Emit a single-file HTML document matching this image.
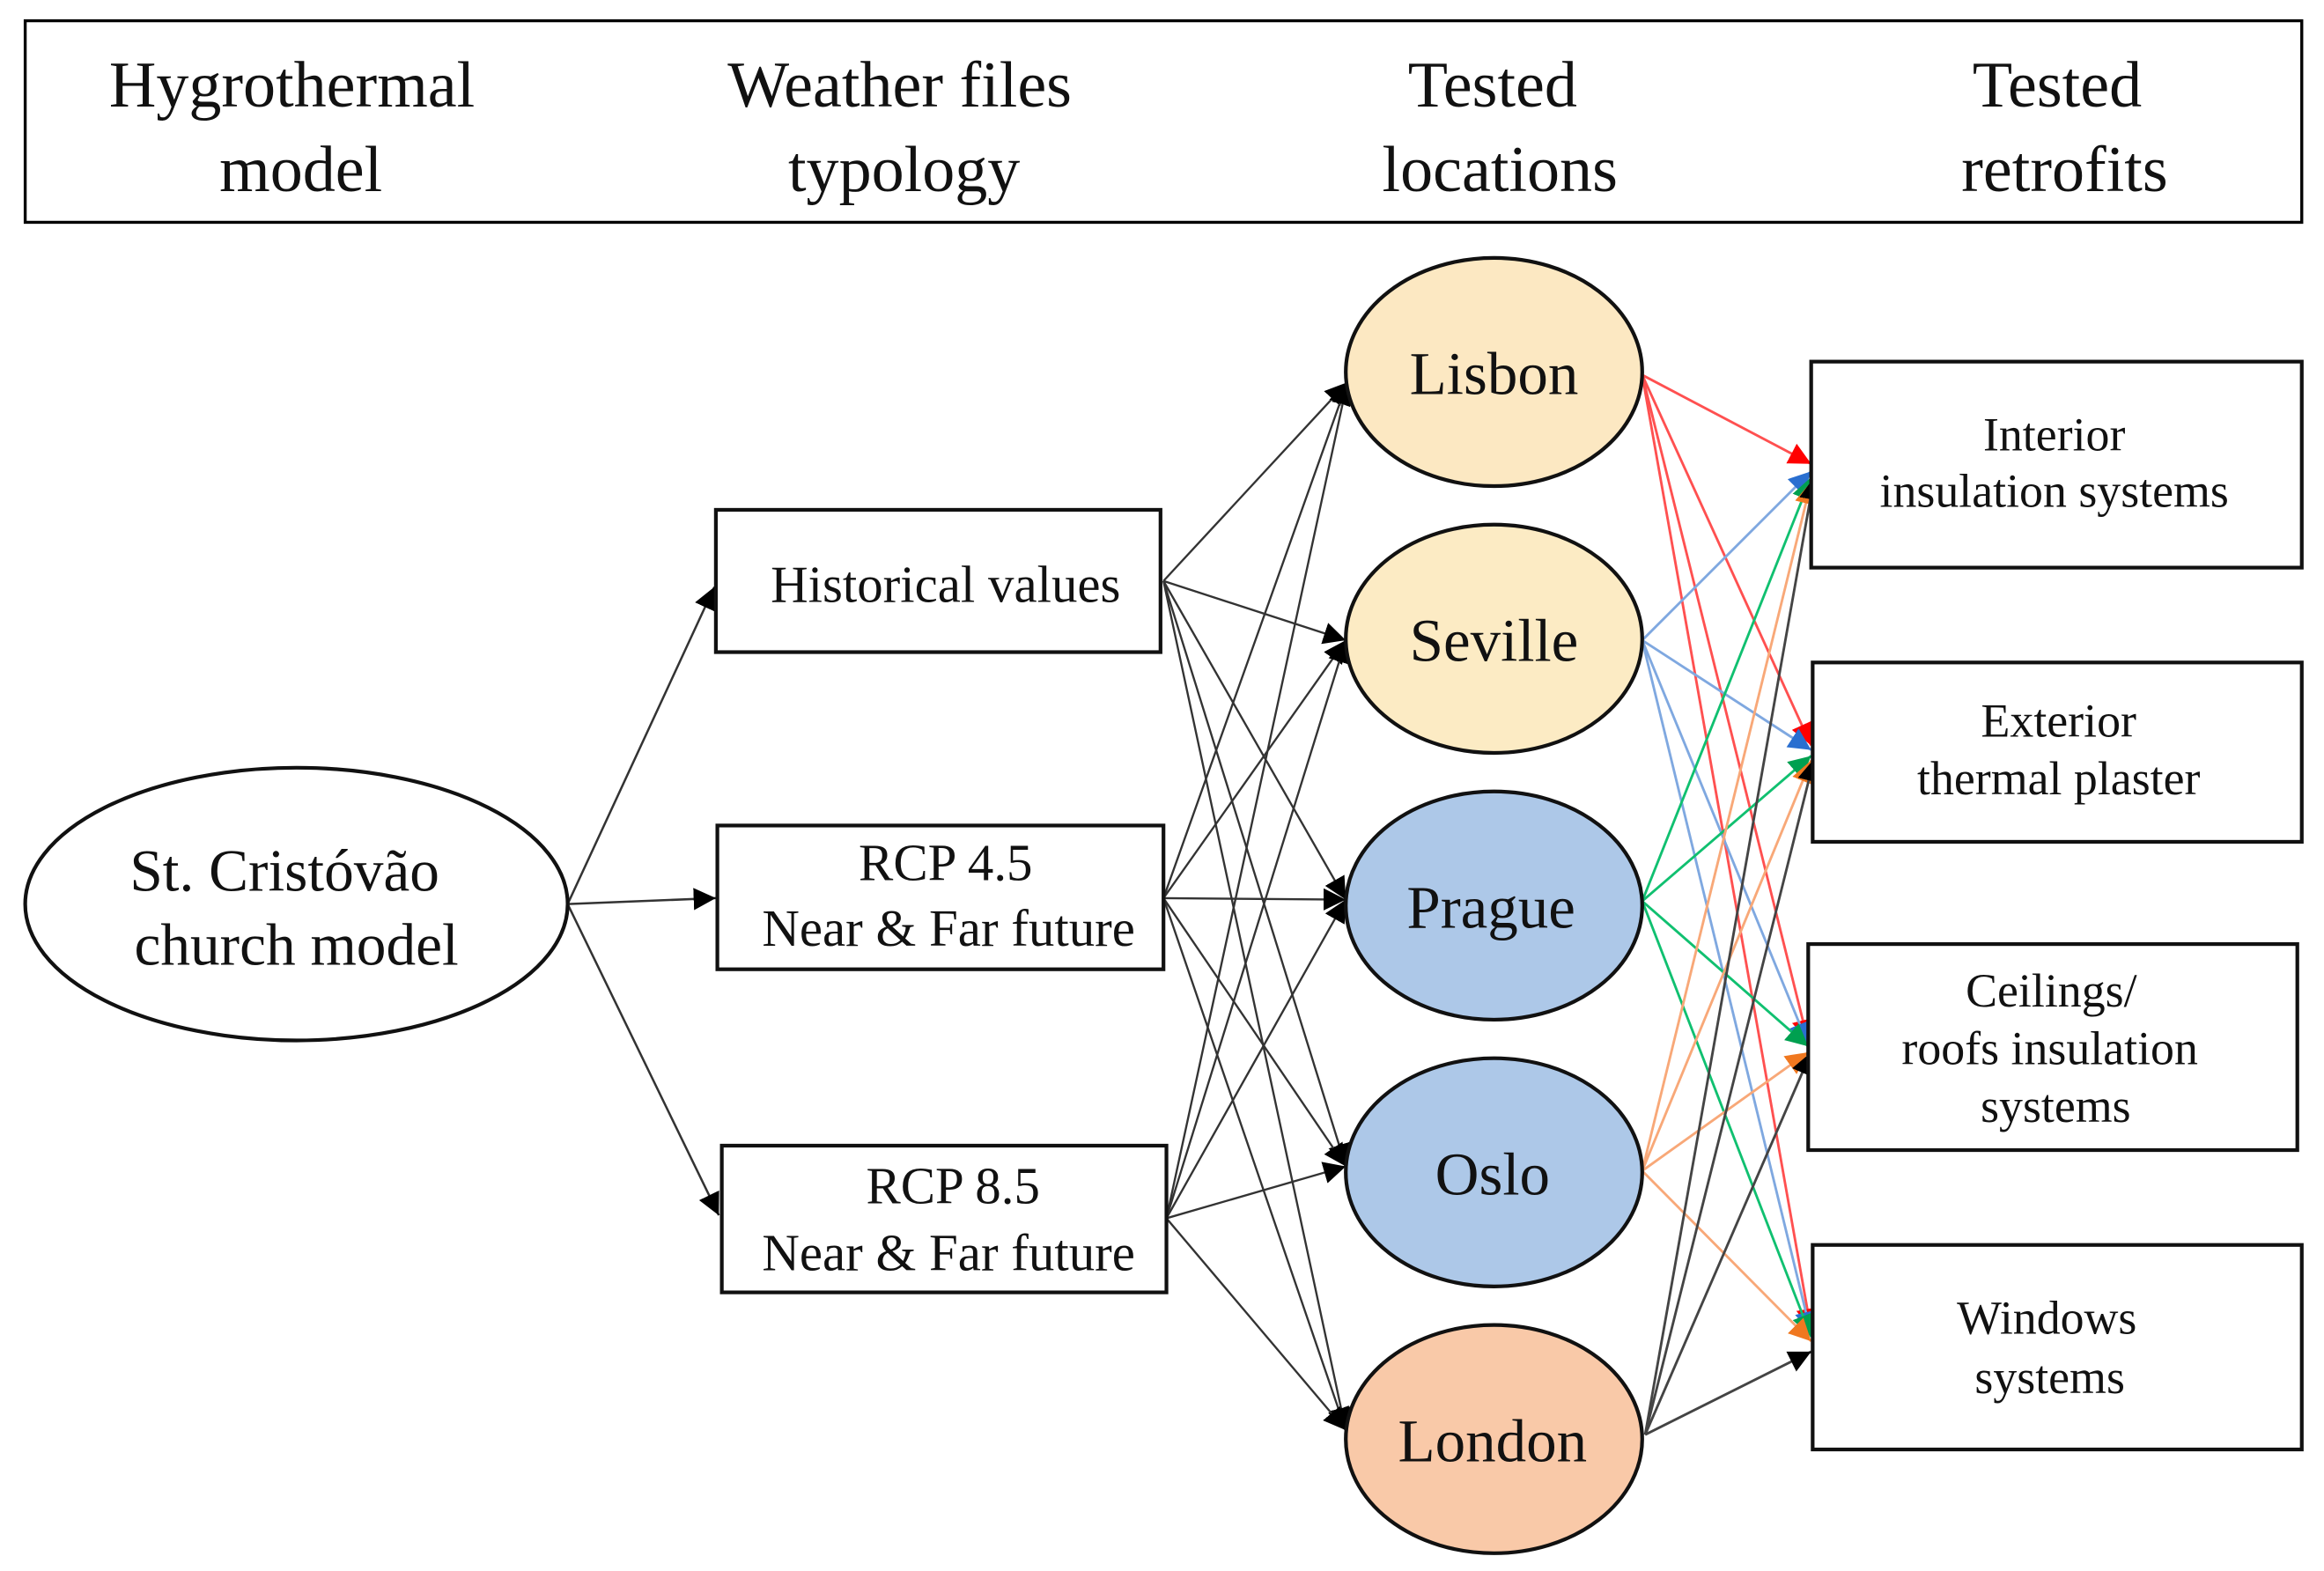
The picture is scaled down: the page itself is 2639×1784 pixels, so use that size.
<!DOCTYPE html>
<html><head><meta charset="utf-8"><style>
html,body{margin:0;padding:0;background:#fff;}
svg{display:block;}
text{font-family:"Liberation Serif",serif;fill:#111;text-anchor:middle;}
</style></head><body>
<svg width="2639" height="1784" viewBox="0 0 1568 1060" preserveAspectRatio="none" xmlns="http://www.w3.org/2000/svg">
<defs>
<marker id="mkb" viewBox="0 0 10 10" refX="10" refY="5" markerWidth="15" markerHeight="15" orient="auto" markerUnits="userSpaceOnUse"><path d="M0,0L10,5L0,10z" fill="#000"/></marker>
<marker id="mr" viewBox="0 0 10 10" refX="10" refY="5" markerWidth="15" markerHeight="15" orient="auto" markerUnits="userSpaceOnUse"><path d="M0,0L10,5L0,10z" fill="#f00"/></marker>
<marker id="mbl" viewBox="0 0 10 10" refX="10" refY="5" markerWidth="15" markerHeight="15" orient="auto" markerUnits="userSpaceOnUse"><path d="M0,0L10,5L0,10z" fill="#2a6fd0"/></marker>
<marker id="mg" viewBox="0 0 10 10" refX="10" refY="5" markerWidth="15" markerHeight="15" orient="auto" markerUnits="userSpaceOnUse"><path d="M0,0L10,5L0,10z" fill="#00a050"/></marker>
<marker id="mo" viewBox="0 0 10 10" refX="10" refY="5" markerWidth="15" markerHeight="15" orient="auto" markerUnits="userSpaceOnUse"><path d="M0,0L10,5L0,10z" fill="#f07820"/></marker>
</defs>

<rect x="17" y="14" width="1536" height="136" fill="none" stroke="#000" stroke-width="2"/>
<g font-size="44">
<text x="197" y="72">Hygrothermal</text><text x="203" y="129">model</text>
<text x="607" y="72">Weather files</text><text x="610" y="129">typology</text>
<text x="1007" y="72">Tested</text><text x="1012" y="129">locations</text>
<text x="1388" y="72">Tested</text><text x="1393" y="129">retrofits</text>
</g>

<g stroke="#333" stroke-width="1.5" fill="none" marker-end="url(#mkb)">
<line x1="383" y1="610" x2="482" y2="396"/>
<line x1="383" y1="610" x2="483" y2="606"/>
<line x1="383" y1="610" x2="485" y2="820"/>
</g>

<g stroke="#333" stroke-width="1.4" fill="none" marker-end="url(#mkb)">
<line x1="785" y1="392" x2="909" y2="258"/>
<line x1="785" y1="392" x2="908" y2="432"/>
<line x1="785" y1="392" x2="908" y2="607"/>
<line x1="785" y1="392" x2="908" y2="787"/>
<line x1="785" y1="392" x2="908" y2="965"/>
<line x1="785" y1="606" x2="909" y2="258"/>
<line x1="785" y1="606" x2="908" y2="432"/>
<line x1="785" y1="606" x2="908" y2="607"/>
<line x1="785" y1="606" x2="908" y2="787"/>
<line x1="785" y1="606" x2="908" y2="965"/>
<line x1="787" y1="822" x2="909" y2="258"/>
<line x1="787" y1="822" x2="908" y2="432"/>
<line x1="787" y1="822" x2="908" y2="607"/>
<line x1="787" y1="822" x2="908" y2="787"/>
<line x1="787" y1="822" x2="908" y2="965"/>
</g>

<g stroke-width="1.7" fill="none">
<g stroke="#ff5050" marker-end="url(#mr)">
<line x1="1108" y1="253" x2="1222" y2="313"/>
<line x1="1108" y1="253" x2="1222" y2="503"/>
<line x1="1108" y1="253" x2="1220" y2="703"/>
<line x1="1108" y1="253" x2="1222" y2="898"/>
</g>
<g stroke="#7fa8e0" marker-end="url(#mbl)">
<line x1="1108" y1="432" x2="1222" y2="318"/>
<line x1="1108" y1="432" x2="1222" y2="506"/>
<line x1="1108" y1="432" x2="1220" y2="705"/>
<line x1="1108" y1="432" x2="1222" y2="900"/>
</g>
<g stroke="#10c070" marker-end="url(#mg)">
<line x1="1108" y1="608" x2="1222" y2="322"/>
<line x1="1108" y1="608" x2="1222" y2="510"/>
<line x1="1108" y1="608" x2="1220" y2="706"/>
<line x1="1108" y1="608" x2="1222" y2="902"/>
</g>
<g stroke="#f8a878" marker-end="url(#mo)">
<line x1="1108" y1="790" x2="1222" y2="325"/>
<line x1="1108" y1="790" x2="1222" y2="513"/>
<line x1="1108" y1="790" x2="1220" y2="710"/>
<line x1="1108" y1="790" x2="1222" y2="905"/>
</g>
<g stroke="#444" marker-end="url(#mkb)">
<line x1="1110" y1="968" x2="1224" y2="322"/>
<line x1="1110" y1="968" x2="1224" y2="512"/>
<line x1="1110" y1="968" x2="1222" y2="710"/>
<line x1="1110" y1="968" x2="1222" y2="912"/>
</g>
</g>

<ellipse cx="200" cy="610" rx="183" ry="92" fill="#fff" stroke="#111" stroke-width="2.5"/>
<text x="192" y="601" font-size="40">St. Cristóvão</text>
<text x="200" y="651" font-size="40">church model</text>

<g fill="#fff" stroke="#111" stroke-width="2.5">
<rect x="483" y="344" width="300" height="96"/>
<rect x="484" y="557" width="301" height="97"/>
<rect x="487" y="773" width="300" height="99"/>
<rect x="1222" y="244" width="331" height="139"/>
<rect x="1223" y="447" width="330" height="121"/>
<rect x="1220" y="637" width="330" height="139"/>
<rect x="1223" y="840" width="330" height="138"/>
</g>
<g font-size="35">
<text x="638" y="406">Historical values</text>
<text x="638" y="594">RCP 4.5</text>
<text x="640" y="638">Near &amp; Far future</text>
<text x="643" y="812">RCP 8.5</text>
<text x="640" y="857">Near &amp; Far future</text>
</g>
<g font-size="32">
<text x="1386" y="304">Interior</text>
<text x="1386" y="342">insulation systems</text>
<text x="1389" y="497">Exterior</text>
<text x="1389" y="536">thermal plaster</text>
<text x="1384" y="679">Ceilings/</text>
<text x="1383" y="718">roofs insulation</text>
<text x="1387" y="757">systems</text>
<text x="1381" y="900">Windows</text>
<text x="1383" y="940">systems</text>
</g>

<g stroke="#111" stroke-width="2.5">
<ellipse cx="1008" cy="251" rx="100" ry="77" fill="#fce8c2"/>
<ellipse cx="1008" cy="431" rx="100" ry="77" fill="#fcebc4"/>
<ellipse cx="1008" cy="611" rx="100" ry="77" fill="#adc8e8"/>
<ellipse cx="1008" cy="791" rx="100" ry="77" fill="#adc8e8"/>
<ellipse cx="1008" cy="971" rx="100" ry="77" fill="#f9c9a8"/>
</g>
<g font-size="41">
<text x="1008" y="266">Lisbon</text>
<text x="1008" y="446">Seville</text>
<text x="1006" y="626">Prague</text>
<text x="1007" y="806">Oslo</text>
<text x="1007" y="986">London</text>
</g>
</svg>
</body></html>
